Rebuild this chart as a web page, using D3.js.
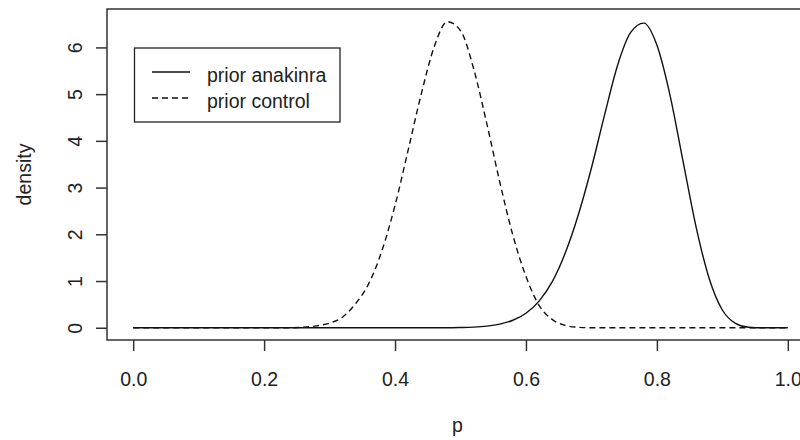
<!DOCTYPE html>
<html>
<head>
  <title>Prior densities</title>
  <style type="text/css">
    body { margin: 0; background: #fff; }
    svg { display: block; }
    text { font-family: "Liberation Sans", Arial, sans-serif; fill: #222; }
  </style>
</head>
<body>

<div id="chart"></div>

<script src="https://d3js.org/d3.v7.min.js"></script>
<script type="text/javascript">
// p grid the densities were read at
var pValues = [0.00, 0.02, 0.04, 0.06, 0.08, 0.10, 0.12, 0.14, 0.16, 0.18,
               0.20, 0.22, 0.24, 0.26, 0.28, 0.30, 0.32, 0.34, 0.36, 0.38,
               0.40, 0.42, 0.44, 0.46, 0.48, 0.50, 0.52, 0.54, 0.56, 0.58,
               0.60, 0.62, 0.64, 0.66, 0.68, 0.70, 0.72, 0.74, 0.76, 0.78,
               0.80, 0.82, 0.84, 0.86, 0.88, 0.90, 0.92, 0.94, 0.96, 0.98, 1.00];

var priorAnakinra = [0, 0, 0, 0, 0, 0, 0, 0, 0, 0,
                     0, 0, 0, 0, 0, 0, 0, 0, 0, 0,
                     0, 0, 0, 0, 0, 0.005, 0.014, 0.035, 0.078, 0.16,
                     0.31, 0.57, 0.98, 1.60, 2.42, 3.42, 4.55, 5.62, 6.32, 6.52,
                     6.05, 4.98, 3.56, 2.15, 1.05, 0.38, 0.095, 0.012, 0, 0, 0];

var priorControl = [0, 0, 0, 0, 0, 0, 0, 0, 0, 0,
                    0, 0, 0, 0.01, 0.04, 0.10, 0.23, 0.52, 0.95, 1.65,
                    2.62, 3.80, 5.00, 6.02, 6.55, 6.36, 5.55, 4.38, 3.12, 1.98,
                    1.10, 0.48, 0.18, 0.05, 0.01, 0, 0, 0, 0, 0,
                    0, 0, 0, 0, 0, 0, 0, 0, 0, 0, 0];

var xTicks = [0, 0.2, 0.4, 0.6, 0.8, 1.0];
var yTicks = [0, 1, 2, 3, 4, 5, 6];
var legendLabels = ["prior anakinra", "prior control"];

var width = 800, height = 440;
var boxLeft = 107, boxRight = 814, boxTop = 9, boxBottom = 340;
var yMax = 6.56;
var fontSize = "19.5px";

var x = d3.scaleLinear()
  .domain([-0.04, 1.04])
  .range([boxLeft, boxRight]);
var y = d3.scaleLinear()
  .domain([-0.04 * yMax, 1.04 * yMax])
  .range([boxBottom, boxTop]);

var svg = d3.select("#chart")
  .append("svg")
  .attr("width", width)
  .attr("height", height);

svg.append("rect")
  .attr("width", width)
  .attr("height", height)
  .attr("fill", "#fff");

// curves
var series = [
  {name: legendLabels[0], values: priorAnakinra, dash: null},
  {name: legendLabels[1], values: priorControl, dash: "6,4"}
];

var line = d3.line()
  .x((d, i) => x(pValues[i]))
  .y(d => y(d))
  .curve(d3.curveMonotoneX);

svg.append("g")
  .selectAll("path")
  .data(series)
  .enter()
  .append("path")
  .attr("d", d => line(d.values))
  .attr("fill", "none")
  .attr("stroke", "#111")
  .attr("stroke-width", 1.4)
  .attr("stroke-dasharray", d => d.dash);

// box
svg.append("rect")
  .attr("x", boxLeft)
  .attr("y", boxTop)
  .attr("width", boxRight - boxLeft)
  .attr("height", boxBottom - boxTop)
  .attr("fill", "none")
  .attr("stroke", "#333")
  .attr("stroke-width", 1.5);

// x axis
var xAxis = svg.append("g")
  .attr("transform", `translate(0,${boxBottom})`)
  .call(d3.axisBottom(x).tickValues(xTicks).tickFormat(d3.format(".1f")).tickSize(11).tickSizeOuter(0));
xAxis.select(".domain").remove();
xAxis.selectAll("line").attr("stroke", "#333").attr("stroke-width", 1.5);
xAxis.selectAll("text")
  .attr("y", 46)
  .attr("dy", 0)
  .style("font-family", "Liberation Sans, Arial, sans-serif")
  .style("font-size", fontSize)
  .attr("fill", "#222");

// y axis
var yAxis = svg.append("g")
  .attr("transform", `translate(${boxLeft},0)`)
  .call(d3.axisLeft(y).tickValues(yTicks).tickFormat(d3.format("d")).tickSize(11).tickSizeOuter(0));
yAxis.select(".domain").remove();
yAxis.selectAll("line").attr("stroke", "#333").attr("stroke-width", 1.5);
yAxis.selectAll("text")
  .attr("x", 0)
  .attr("dy", 0)
  .attr("transform", "translate(-25.5,0) rotate(-90)")
  .attr("text-anchor", "middle")
  .style("font-family", "Liberation Sans, Arial, sans-serif")
  .style("font-size", fontSize)
  .attr("fill", "#222");

// axis titles
svg.append("text")
  .attr("x", (boxLeft + boxRight) / 2 - 3)
  .attr("y", 432)
  .attr("text-anchor", "middle")
  .style("font-size", fontSize)
  .text("p");

svg.append("text")
  .attr("transform", `translate(31,${(boxTop + boxBottom) / 2}) rotate(-90)`)
  .attr("text-anchor", "middle")
  .style("font-size", fontSize)
  .text("density");

// legend
var legend = svg.append("g");
legend.append("rect")
  .attr("x", 134.5)
  .attr("y", 48)
  .attr("width", 205.5)
  .attr("height", 74)
  .attr("fill", "#fff")
  .attr("stroke", "#222")
  .attr("stroke-width", 1.3);

var rows = legend.selectAll(".row")
  .data(series)
  .enter()
  .append("g")
  .attr("class", "row")
  .attr("transform", (d, i) => `translate(0,${72 + i * 26})`);

rows.append("line")
  .attr("x1", 152)
  .attr("x2", 190)
  .attr("stroke", "#111")
  .attr("stroke-width", 1.4)
  .attr("stroke-dasharray", d => d.dash);

rows.append("text")
  .attr("x", 207)
  .attr("y", 10)
  .style("font-size", fontSize)
  .text(d => d.name);
</script>
</body>
</html>
